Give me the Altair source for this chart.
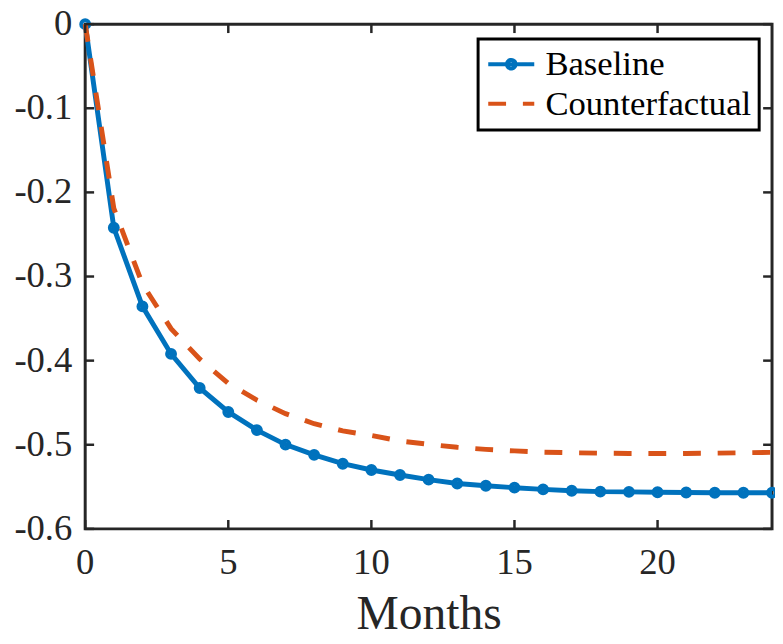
import altair as alt
import pandas as pd

# ---- data ----
months = list(range(25))
baseline = [0, -0.242, -0.3355, -0.392, -0.4325, -0.461, -0.4826, -0.4998, -0.512,
            -0.5225, -0.530, -0.536, -0.5415, -0.546, -0.5487, -0.551, -0.553,
            -0.5546, -0.5557, -0.556, -0.5565, -0.5567, -0.557, -0.557, -0.557]
counterfactual = [0, -0.219, -0.309, -0.362, -0.398, -0.427, -0.447, -0.463, -0.475,
                  -0.4835, -0.489, -0.4955, -0.4995, -0.503, -0.5055, -0.5073, -0.5088,
                  -0.5095, -0.510, -0.5103, -0.5105, -0.5103, -0.510, -0.5095, -0.509]
series_names = ["Baseline", "Counterfactual"]
x_ticks = [0, 5, 10, 15, 20]
x_tick_labels = ["0", "5", "10", "15", "20"]
y_ticks = [0, -0.1, -0.2, -0.3, -0.4, -0.5, -0.6]
y_tick_labels = ["0", "-0.1", "-0.2", "-0.3", "-0.4", "-0.5", "-0.6"]
x_title = "Months"

# ---- styling ----
W, H = 694, 510
FONT = "Liberation Serif"
AX = "#262626"
COLORS = ["#0072BD", "#D95319"]
DASH = [18, 17]
TICK_LEN = 9

df = pd.DataFrame({
    "month": months * 2,
    "value": baseline + counterfactual,
    "series": [series_names[0]] * len(months) + [series_names[1]] * len(months),
})
df_base = df[df.series == series_names[0]]
df_cf = df[df.series == series_names[1]]
xt = pd.DataFrame({"month": x_ticks, "label": x_tick_labels})
yt = pd.DataFrame({"value": y_ticks, "label": y_tick_labels})

xscale = alt.Scale(domain=[0, 24], nice=False, zero=False)
yscale = alt.Scale(domain=[-0.6, 0], nice=False, zero=False)

path_base = "M-1.5,0L1.5,0M0.28,0A0.28,0.28,0,1,1,-0.28,0A0.28,0.28,0,1,1,0.28,0"
path_cf = "M-1.5,0L1.5,0"

color_scale = alt.Scale(domain=series_names, range=COLORS)
dash_scale = alt.Scale(domain=series_names, range=[[1, 0], DASH])
shape_scale = alt.Scale(domain=series_names, range=[path_base, path_cf])

x_axis = alt.Axis(values=x_ticks, title=x_title, labels=False,
                  titleFont=FONT, titleFontSize=48, titleColor=AX,
                  titleFontWeight="normal", titleY=101, titleBaseline="alphabetic",
                  domain=False, ticks=False, grid=False)
y_axis = alt.Axis(values=y_ticks, title=None, labels=False,
                  domain=False, ticks=False, grid=False)

X = alt.X("month:Q", scale=xscale, axis=x_axis, title=x_title)
Y = alt.Y("value:Q", scale=yscale, axis=y_axis, title=None)

base_line = alt.Chart(df_base).mark_line(strokeWidth=5, color=COLORS[0]).encode(x=X, y=Y)
base_pts = alt.Chart(df_base).mark_point(
    filled=False, size=64, strokeWidth=4, opacity=1, color=COLORS[0]
).encode(x=X, y=Y)
cf_line = alt.Chart(df_cf).mark_line(
    strokeWidth=5, color=COLORS[1], strokeDash=DASH
).encode(x=X, y=Y)

tick_bottom = alt.Chart(xt).mark_rule(color=AX, strokeWidth=2.5).encode(
    x=X, y=alt.value(H), y2=alt.value(H - TICK_LEN))
tick_top = alt.Chart(xt).mark_rule(color=AX, strokeWidth=2.5).encode(
    x=X, y=alt.value(0), y2=alt.value(TICK_LEN))
tick_left = alt.Chart(yt).mark_rule(color=AX, strokeWidth=2.5).encode(
    y=Y, x=alt.value(0), x2=alt.value(TICK_LEN))
tick_right = alt.Chart(yt).mark_rule(color=AX, strokeWidth=2.5).encode(
    y=Y, x=alt.value(W), x2=alt.value(W - TICK_LEN))

# tick labels as text marks positioned by the scales
x_labels = alt.Chart(xt).mark_text(
    font=FONT, fontSize=37, color=AX, align="center", baseline="top"
).encode(x=X, y=alt.value(H + 17), text="label:N")
y_labels = alt.Chart(yt).mark_text(
    font=FONT, fontSize=37, color=AX, align="right", baseline="middle"
).encode(y=Y, x=alt.value(-13), text="label:N")

legend = alt.Legend(orient="none", legendX=397, legendY=15, title=None,
                    labelFont=FONT, labelFontSize=35, labelColor="black",
                    strokeColor="black", fillColor="white", padding=8,
                    symbolSize=961, symbolStrokeWidth=4, symbolOffset=8,
                    labelOffset=17, rowPadding=4, labelLimit=500)

legend_layer = alt.Chart(df).mark_point(
    filled=False, size=961, strokeWidth=4, opacity=0
).encode(
    x=X, y=Y,
    color=alt.Color("series:N", scale=color_scale, legend=legend),
    strokeDash=alt.StrokeDash("series:N", scale=dash_scale, legend=legend),
    shape=alt.Shape("series:N", scale=shape_scale, legend=legend),
    opacity=alt.value(0),
)

chart = alt.layer(
    base_line, base_pts, cf_line, tick_bottom, tick_top, tick_left, tick_right,
    x_labels, y_labels, legend_layer
).properties(
    width=W, height=H,
    padding={"left": 78, "top": 13, "right": 3, "bottom": 113},
    autosize=alt.AutoSizeParams(type="none"),
    background="white",
).configure(
    font=FONT,
    style={"guide-label": {"font": FONT}, "guide-title": {"font": FONT}},
).configure_view(
    stroke=AX, strokeWidth=3, fill="white"
).configure_axis(
    labelFont=FONT, titleFont=FONT
).configure_legend(
    labelFont=FONT, strokeWidth=3
)

chart.save("out.html", embed_options={"renderer": "svg", "actions": False})
